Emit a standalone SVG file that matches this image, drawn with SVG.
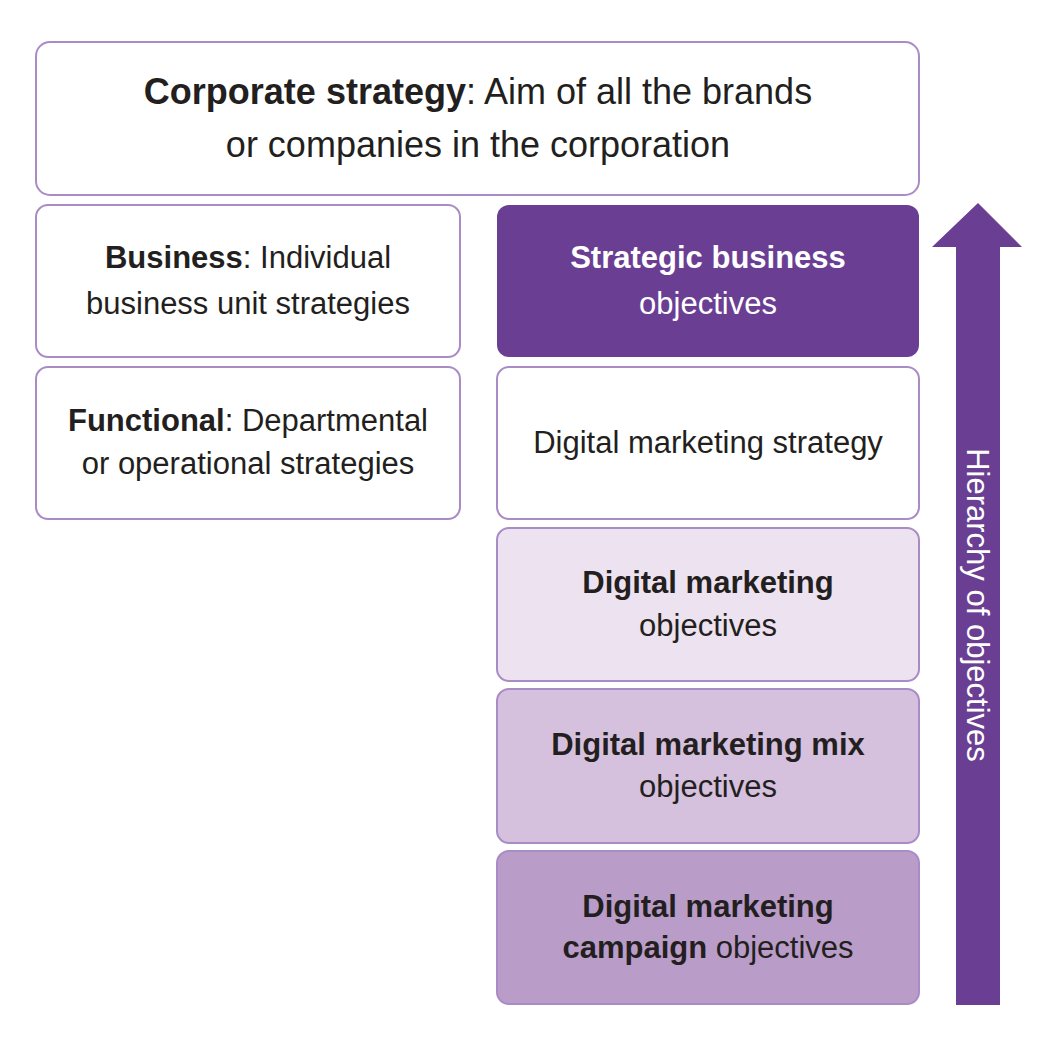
<svg xmlns="http://www.w3.org/2000/svg" width="1052" height="1060" viewBox="0 0 1052 1060">
<style>
.b{stroke:#a98bc6;stroke-width:2}
text{font-family:"Liberation Sans",Arial,sans-serif;fill:#231f20;text-anchor:middle}
.l{font-size:36px}.m{font-size:31px}
.bd{font-weight:bold}
</style>
<rect width="1052" height="1060" fill="#fff"/>
<g id="corporate"><rect class="b" x="36" y="42" width="883" height="153" rx="14" fill="#fff"/>
<text class="l" x="478" y="104"><tspan class="bd">Corporate strategy</tspan>: Aim of all the brands</text>
<text class="l" x="478" y="157">or companies in the corporation</text></g>
<g id="business"><rect class="b" x="36" y="205" width="424" height="152" rx="12" fill="#fff"/>
<text class="m" x="248" y="268"><tspan class="bd">Business</tspan>: Individual</text>
<text class="m" x="248" y="314">business unit strategies</text></g>
<g id="functional"><rect class="b" x="36" y="367" width="424" height="152" rx="12" fill="#fff"/>
<text class="m" x="248" y="431"><tspan class="bd">Functional</tspan>: Departmental</text>
<text class="m" x="248" y="474">or operational strategies</text></g>
<g id="sbo"><rect x="497" y="205" width="422" height="152" rx="12" fill="#6a3f93"/>
<text class="m bd" x="708" y="268" style="fill:#fff">Strategic business</text>
<text class="m" x="708" y="314" style="fill:#fff">objectives</text></g>
<g id="dms"><rect class="b" x="497" y="367" width="422" height="152" rx="12" fill="#fff"/>
<text class="m" x="708" y="453">Digital marketing strategy</text></g>
<g id="dmo"><rect class="b" x="497" y="528" width="422" height="153" rx="12" fill="#ede2ef"/>
<text class="m bd" x="708" y="593">Digital marketing</text>
<text class="m" x="708" y="636">objectives</text></g>
<g id="mix"><rect class="b" x="497" y="689" width="422" height="154" rx="12" fill="#d5c0dd"/>
<text class="m bd" x="708" y="755">Digital marketing mix</text>
<text class="m" x="708" y="797">objectives</text></g>
<g id="campaign"><rect class="b" x="497" y="851" width="422" height="153" rx="12" fill="#b99cc8"/>
<text class="m bd" x="708" y="917">Digital marketing</text>
<text class="m" x="708" y="958"><tspan class="bd">campaign</tspan> objectives</text></g>
<g id="connectors"><polygon points="978,203 1022,247 1000,247 1000,1005 956,1005 956,247 932,247" fill="#6a3f93"/>
<text class="m" transform="translate(967,605) rotate(90)" style="fill:#fff">Hierarchy of objectives</text></g>
</svg>
